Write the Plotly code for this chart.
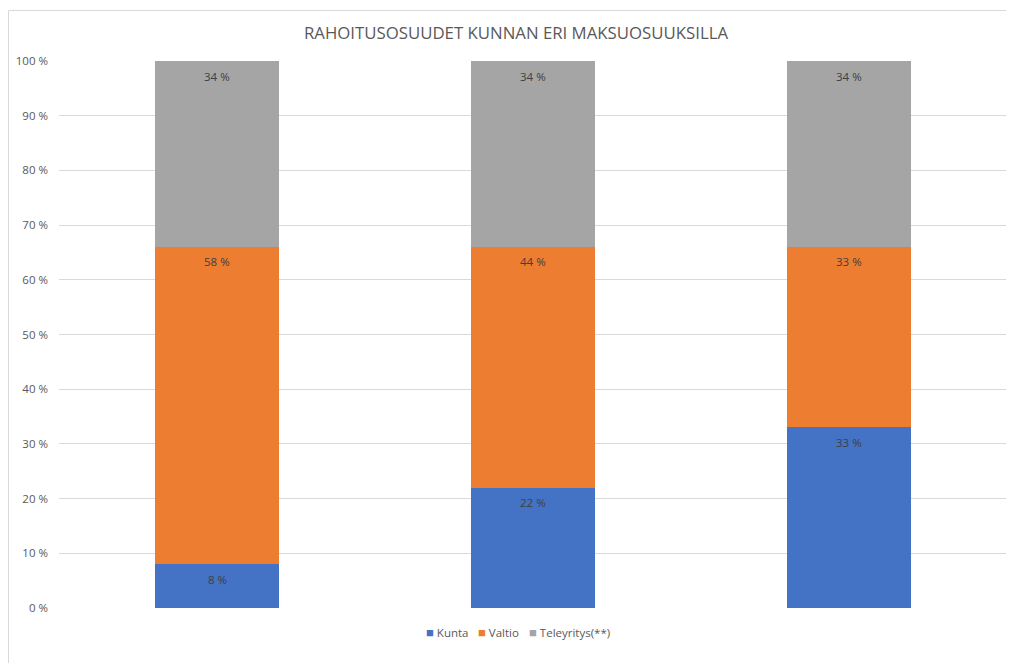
import plotly.graph_objects as go

categories = ["Maksuosuus A", "Maksuosuus B", "Maksuosuus C"]
kunta = [8, 22, 33]
valtio = [58, 44, 33]
teleyritys = [34, 34, 34]
tick_vals = [0, 10, 20, 30, 40, 50, 60, 70, 80, 90, 100]
tick_text = [f"{v} %" for v in tick_vals]
series_names = ["Kunta", "Valtio", "Teleyritys(**)"]
series_colors = ["#4472C4", "#ED7D31", "#A5A5A5"]
series_values = [kunta, valtio, teleyritys]

# page body has an 8px margin; figure is sized/placed to compensate
OFF = 8
W, H = 1014 - OFF, 663 - OFF
L, R, T, B = 59 - OFF, 7, 61 - OFF, 55
pw, ph = W - L - R, H - T - B

def px(x_screen):
    return (x_screen - OFF - L) / pw

def py(y_screen):
    return (H - B - (y_screen - OFF)) / ph

fig = go.Figure()
annotations = []
cum = [0] * len(categories)
for name, vals, color in zip(series_names, series_values, series_colors):
    fig.add_trace(go.Bar(
        x=categories, y=vals, name=name,
        marker=dict(color=color, line=dict(width=0)),
        hoverinfo="skip",
        showlegend=False,
    ))
    cum = [c + v for c, v in zip(cum, vals)]
    # data labels near the top of each segment
    for i, (top, v) in enumerate(zip(cum, vals)):
        annotations.append(dict(
            x=i, y=top, xref="x", yref="y",
            text=f"{v} %", showarrow=False,
            xanchor="center", yanchor="middle", yshift=-15,
            font=dict(color="#404040", size=11.5, family="Open Sans"),
        ))

# legend drawn as text keys below the plot
legend_x_screen = [424, 476, 527]
for name, color, xs in zip(series_names, series_colors, legend_x_screen):
    annotations.append(dict(
        xref="paper", yref="paper", x=px(xs), y=py(632),
        xanchor="left", yanchor="middle", showarrow=False,
        text=f'<span style="color:{color};font-size:13px">■</span> {name}',
        font=dict(size=11.5, color="#595959", family="Open Sans"),
    ))

fig.update_layout(
    width=W, height=H,
    barmode="stack", bargap=0.605,
    margin=dict(l=L, r=R, t=T, b=B, pad=0),
    paper_bgcolor="white", plot_bgcolor="white",
    font=dict(family="Open Sans", color="#595959", size=11),
    title=dict(text="RAHOITUSOSUUDET KUNNAN ERI MAKSUOSUUKSILLA",
               x=px(516), xanchor="center", xref="paper",
               y=1 - (33 - OFF) / H, yanchor="middle",
               font=dict(size=16.8, color="#595959", family="Open Sans")),
    showlegend=False,
    annotations=annotations,
)
fig.update_xaxes(type="category", range=[-0.5, len(categories) - 0.5],
                 showticklabels=False, showgrid=False,
                 zeroline=False, showline=False, ticks="")
fig.update_yaxes(range=[0, 100], tickvals=tick_vals, ticktext=tick_text,
                 showgrid=True, gridcolor="#D9D9D9", gridwidth=1,
                 zeroline=False, showline=False, ticks="",
                 ticklabelstandoff=10,
                 tickfont=dict(size=11.5, color="#595959"))
fig.add_shape(type="rect", xref="paper", yref="paper",
              x0=px(8.5), x1=px(1012.5), y0=py(666), y1=py(10.5),
              line=dict(color="#D9D9D9", width=1), fillcolor="rgba(0,0,0,0)",
              layer="below")

fig.write_html("out.html")
